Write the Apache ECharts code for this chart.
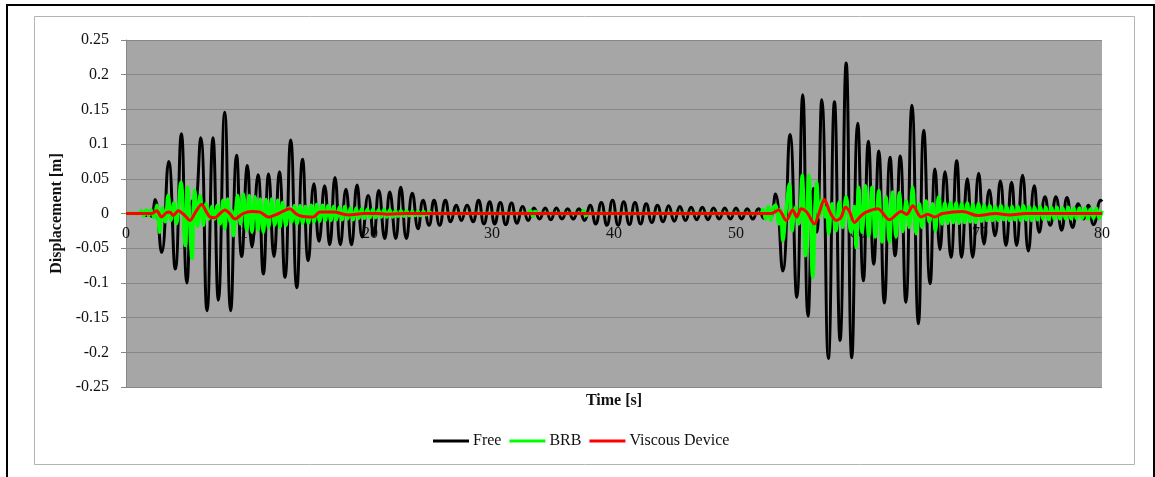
<!DOCTYPE html>
<html>
<head>
<meta charset="utf-8">
<script src="https://cdn.jsdelivr.net/npm/echarts@6/dist/echarts.min.js"></script>
<style>
  html, body { margin: 0; padding: 0; background: #fff; }
  #chart { width: 1155px; height: 477px; }
</style>
</head>
<body>
<div id="chart"></div>
<script>
// *******Data: [time (s), displacement (m)] at each turning point*******
var seriesNames = ['Free', 'BRB', 'Viscous Device'];
var xTicks = [0, 10, 20, 30, 40, 50, 60, 70, 80];
var yTicks = [-0.25, -0.2, -0.15, -0.1, -0.05, 0, 0.05, 0.1, 0.15, 0.2, 0.25];

var freeData = [
    [0, 0], [1.3, 0], [1.6, -0.003], [1.9, 0.002], [2.1, -0.004], [2.38, 0.02], [2.92, -0.056],
    [3.5, 0.075], [4.04, -0.08], [4.54, 0.115], [5.0, -0.1], [5.42, 0.018], [5.62, 0.008],
    [6.12, 0.109], [6.64, -0.14], [7.13, 0.109], [7.57, -0.125], [8.09, 0.146], [8.58, -0.14],
    [9.07, 0.084], [9.48, -0.062], [9.95, 0.069], [10.33, -0.048], [10.82, 0.056], [11.26, -0.087],
    [11.69, 0.057], [12.13, -0.062], [12.57, 0.06], [13.03, -0.092], [13.5, 0.106], [14.0, -0.107],
    [14.47, 0.078], [14.94, -0.068], [15.4, 0.043], [15.82, -0.04], [16.28, 0.04], [16.7, -0.045],
    [17.13, 0.052], [17.57, -0.045], [18.03, 0.035], [18.48, -0.045], [18.94, 0.041], [19.36, -0.034],
    [19.85, 0.026], [20.31, -0.032], [20.72, 0.033], [21.21, -0.036], [21.62, 0.031], [22.11, -0.036],
    [22.52, 0.038], [22.98, -0.036], [23.47, 0.029], [23.94, -0.022], [24.35, 0.019], [24.84, -0.017],
    [25.25, 0.019], [25.71, -0.017], [26.18, 0.019], [26.61, -0.012], [27.08, 0.012], [27.49, -0.01],
    [27.95, 0.012], [28.44, -0.012], [28.9, 0.019], [29.34, -0.015], [29.81, 0.017], [30.22, -0.015],
    [30.68, 0.016], [31.13, -0.016], [31.6, 0.015], [32.05, -0.014], [32.52, 0.01], [32.97, -0.01],
    [33.44, 0.008], [33.9, -0.008], [34.36, 0.008], [34.82, -0.009], [35.28, 0.008], [35.74, -0.008],
    [36.2, 0.007], [36.66, -0.008], [37.12, 0.007], [37.58, -0.01], [38.04, 0.012], [38.5, -0.015],
    [38.96, 0.016], [39.42, -0.017], [39.88, 0.019], [40.34, -0.017], [40.8, 0.017], [41.26, -0.016],
    [41.72, 0.016], [42.18, -0.015], [42.64, 0.014], [43.1, -0.013], [43.56, 0.012], [44.02, -0.012],
    [44.48, 0.011], [44.94, -0.011], [45.4, 0.01], [45.86, -0.01], [46.32, 0.009], [46.78, -0.009],
    [47.24, 0.009], [47.7, -0.009], [48.16, 0.008], [48.62, -0.008], [49.08, 0.008], [49.54, -0.008],
    [50.0, 0.008], [50.46, -0.008], [50.92, 0.007], [51.38, -0.008], [51.84, 0.007], [52.3, -0.007],
    [52.62, 0.004], [52.85, -0.006], [53.23, 0.028], [53.83, -0.083], [54.43, 0.114], [54.98, -0.121],
    [55.47, 0.171], [55.91, -0.148], [56.35, 0.036], [56.62, -0.027], [57.03, 0.164], [57.57, -0.209],
    [58.07, 0.161], [58.53, -0.183], [59.03, 0.217], [59.49, -0.208], [59.98, 0.13], [60.44, -0.097],
    [60.85, 0.104], [61.29, -0.073], [61.7, 0.09], [62.16, -0.129], [62.63, 0.081], [63.04, -0.061],
    [63.46, 0.083], [63.92, -0.128], [64.42, 0.156], [64.95, -0.159], [65.39, 0.12], [65.91, -0.101],
    [66.31, 0.064], [66.72, -0.052], [67.13, 0.06], [67.62, -0.063], [68.09, 0.076], [68.5, -0.063],
    [68.96, 0.05], [69.4, -0.063], [69.89, 0.058], [70.33, -0.044], [70.76, 0.034], [71.23, -0.032],
    [71.67, 0.047], [72.13, -0.046], [72.59, 0.045], [73.0, -0.046], [73.49, 0.055], [73.96, -0.054],
    [74.45, 0.04], [74.86, -0.027], [75.33, 0.024], [75.76, -0.017], [76.22, 0.024], [76.69, -0.024],
    [77.13, 0.023], [77.59, -0.02], [78.06, 0.014], [78.49, -0.008], [78.87, 0.012], [79.31, -0.016],
    [79.9, 0.019], [80, 0.017]
];

var brbData = [
    [0, 0], [1.1, 0], [1.25, 0.004], [1.45, -0.004], [1.65, 0.005], [1.85, -0.003], [2.05, 0.005],
    [2.3, -0.006], [2.53, 0.012], [2.76, -0.027], [2.99, 0.008], [3.22, -0.012], [3.45, 0.026],
    [3.68, -0.01], [3.91, 0.015], [4.14, -0.015], [4.5, 0.045], [4.86, -0.046], [5.05, 0.038],
    [5.41, -0.065], [5.63, 0.034], [5.87, -0.019], [6.07, 0.026], [6.34, -0.017], [6.56, 0.014],
    [6.8, -0.008], [7.03, 0.01], [7.26, -0.008], [7.49, 0.012], [7.72, -0.015], [7.95, 0.019],
    [8.1, -0.022], [8.33, 0.021], [8.55, -0.012], [8.68, 0.004], [8.8, -0.032], [9.15, 0.026],
    [9.38, -0.015], [9.62, 0.028], [9.89, -0.024], [10.11, 0.026], [10.33, -0.027], [10.57, 0.024],
    [10.82, -0.024], [11.01, 0.021], [11.26, -0.027], [11.48, 0.02], [11.69, -0.02], [11.94, 0.021],
    [12.19, -0.017], [12.43, 0.019], [12.62, -0.02], [12.84, 0.016], [13.11, -0.017], [13.33, 0.008],
    [13.58, -0.012], [13.8, 0.011], [14.02, -0.015], [14.26, 0.011], [14.48, -0.014], [14.7, 0.01],
    [14.95, -0.014], [15.18, 0.012], [15.41, -0.012], [15.64, 0.013], [15.87, -0.011], [16.1, 0.012],
    [16.33, -0.01], [16.56, 0.011], [16.79, -0.01], [17.02, 0.01], [17.25, -0.009], [17.48, 0.009],
    [17.71, -0.009], [17.94, 0.01], [18.17, -0.008], [18.4, 0.008], [18.63, -0.009], [18.86, 0.008],
    [19.09, -0.007], [19.32, 0.007], [19.55, -0.007], [19.78, 0.006], [20.01, -0.006], [20.24, 0.006],
    [20.47, -0.006], [20.7, 0.005], [20.93, -0.005], [21.16, 0.006], [21.39, -0.005], [21.62, 0.005],
    [21.85, -0.005], [22.08, 0.004], [22.31, -0.004], [22.54, 0.004], [22.77, -0.004], [23.0, 0.004],
    [23.23, -0.003], [23.46, 0.003], [23.69, -0.003], [23.92, 0.003], [24.15, -0.003], [24.38, 0.003],
    [24.61, -0.002], [24.84, 0.002], [25.1, 0], [32.9, 0], [33.15, 0.004], [33.35, -0.004],
    [33.55, 0.003], [33.8, 0], [37.3, 0], [37.5, 0.004], [37.7, -0.003], [37.9, 0], [52.0, 0],
    [52.2, 0.006], [52.42, -0.008], [52.64, 0.01], [52.86, -0.01], [53.05, 0.008], [53.24, 0.012],
    [53.51, -0.015], [53.67, 0.006], [53.84, -0.039], [54.1, 0.004], [54.38, 0.043], [54.6, -0.025],
    [54.87, 0.009], [55.15, -0.015], [55.42, 0.055], [55.69, -0.061], [55.97, 0.055], [56.29, -0.092],
    [56.62, 0.045], [56.84, -0.005], [57.06, 0.02], [57.33, -0.005], [57.45, 0.01], [57.6, -0.029],
    [57.87, 0.014], [58.19, -0.025], [58.47, 0.017], [58.75, -0.02], [59.02, 0.024], [59.43, -0.027],
    [59.7, 0.01], [59.84, -0.049], [60.06, 0.038], [60.34, -0.027], [60.6, 0.04], [60.88, -0.032],
    [61.15, 0.038], [61.42, -0.034], [61.7, 0.033], [61.97, -0.041], [62.3, 0.024], [62.57, -0.041],
    [62.85, 0.031], [63.12, -0.034], [63.39, 0.03], [63.66, -0.026], [63.95, 0.018], [64.2, -0.02],
    [64.48, 0.038], [64.76, -0.029], [65.03, 0.014], [65.25, -0.02], [65.58, 0.018], [65.85, -0.012],
    [66.12, 0.014], [66.34, -0.025], [66.61, 0.024], [66.89, -0.015], [67.12, 0.015], [67.35, -0.014],
    [67.58, 0.016], [67.81, -0.013], [68.04, 0.015], [68.27, -0.014], [68.5, 0.014], [68.73, -0.013],
    [68.96, 0.015], [69.19, -0.012], [69.42, 0.013], [69.65, -0.013], [69.88, 0.014], [70.11, -0.011],
    [70.34, 0.012], [70.57, -0.01], [70.8, 0.011], [71.03, -0.01], [71.26, 0.01], [71.49, -0.01],
    [71.72, 0.011], [71.95, -0.009], [72.18, 0.01], [72.41, -0.01], [72.64, 0.01], [72.87, -0.009],
    [73.1, 0.01], [73.33, -0.01], [73.56, 0.011], [73.79, -0.009], [74.02, 0.01], [74.25, -0.01],
    [74.48, 0.009], [74.71, -0.009], [74.94, 0.01], [75.17, -0.008], [75.4, 0.009], [75.63, -0.009],
    [75.86, 0.009], [76.09, -0.008], [76.32, 0.009], [76.55, -0.008], [76.78, 0.008], [77.01, -0.008],
    [77.24, 0.009], [77.47, -0.008], [77.7, 0.008], [77.93, -0.008], [78.16, 0.008], [78.39, -0.007],
    [78.62, 0.008], [78.85, -0.008], [79.08, 0.007], [79.31, -0.007], [79.54, 0.008], [79.77, -0.007],
    [80, 0.004]
];

var viscousData = [
    [0, 0], [2.1, 0], [2.51, 0.004], [2.92, -0.005], [3.3, 0.001], [3.6, 0.002], [3.88, -0.003],
    [4.29, 0.004], [4.83, -0.003], [5.24, -0.01], [5.7, 0.002], [6.2, 0.013], [6.6, 0.002],
    [6.88, -0.005], [7.29, -0.006], [7.7, 0.0], [8.11, 0.005], [8.5, 0.0], [8.93, -0.008],
    [9.6, 0.0], [10.29, 0.003], [11.0, 0.002], [11.66, -0.005], [12.5, 0.0], [13.43, 0.007],
    [13.9, 0.0], [14.39, -0.004], [15.34, -0.005], [15.89, 0.002], [16.98, 0.002], [18.24, -0.002],
    [19.5, 0.0], [20.53, 0.0], [21.36, -0.001], [23, 0.0], [52.88, 0], [53.51, 0.005],
    [54.11, -0.01], [54.65, 0.005], [54.98, -0.005], [55.34, 0.007], [55.8, 0.002], [56.43, -0.015],
    [56.8, 0.0], [57.25, 0.02], [57.7, 0.002], [58.21, -0.01], [58.6, -0.006], [58.97, 0.009],
    [59.3, 0.003], [59.71, -0.013], [60.2, -0.004], [60.66, 0.002], [61.62, 0.007], [62.57, -0.009],
    [63.53, 0.003], [64.0, -0.001], [64.5, 0.011], [65.17, -0.005], [65.71, -0.001], [66.26, -0.005],
    [66.94, 0.0], [68.57, 0.003], [69.81, -0.003], [71.31, 0.0], [72.4, -0.002], [73.76, 0.0],
    [80, 0.0]
];

var seriesColors = ['#000000', '#00ff00', '#ff0000'];
var serifFont = '"Liberation Serif", "Times New Roman", serif';

// plot box in the picture
var plotTop = 40;
var plotHeight = 347;

var myChart = echarts.init(document.getElementById('chart'), null, { renderer: 'canvas' });

function buildLine(name, data, color, width, smooth) {
    return {
        name: name,
        type: 'line',
        data: data,
        smooth: smooth,
        showSymbol: false,
        symbol: 'none',
        lineStyle: { color: color, width: width, join: 'round' },
        itemStyle: { color: color },
        emphasis: { disabled: true }
    };
}

var option = {
    animation: false,
    backgroundColor: '#ffffff',
    graphic: [
        // outer chart frame and inner plot-area frame
        { type: 'rect', shape: { x: 7, y: 5, width: 1147, height: 520 },
          style: { fill: null, stroke: '#000', lineWidth: 2 }, silent: true },
        { type: 'rect', shape: { x: 34.5, y: 16.5, width: 1100, height: 448 },
          style: { fill: null, stroke: '#b4b4b4', lineWidth: 1 }, silent: true }
    ],
    grid: {
        left: 126, top: plotTop, width: 976, height: plotHeight,
        containLabel: false, outerBoundsMode: 'none',
        show: true, backgroundColor: '#a6a6a6', borderWidth: 0
    },
    legend: {
        data: seriesNames,
        left: 428, top: 428,
        icon: 'rect', itemWidth: 36, itemHeight: 3, itemGap: 8,
        textStyle: { fontFamily: serifFont, fontSize: 16, color: '#111', padding: [0, 0, 0, -1] },
        selectedMode: false
    },
    xAxis: {
        type: 'value', min: xTicks[0], max: xTicks[xTicks.length - 1], interval: 10,
        position: 'bottom',
        // the horizontal axis sits on the zero line, half way up the plot
        offset: -plotHeight / 2,
        name: 'Time [s]', nameLocation: 'middle', nameGap: 179,
        nameTextStyle: { fontFamily: serifFont, fontSize: 16, fontWeight: 'bold', color: '#111' },
        axisLine: { onZero: false, lineStyle: { color: '#868686', width: 1 } },
        axisTick: { show: false },
        axisLabel: { fontFamily: serifFont, fontSize: 16, color: '#111', margin: 12 },
        splitLine: { show: false }
    },
    yAxis: {
        type: 'value', min: yTicks[0], max: yTicks[yTicks.length - 1], interval: 0.05,
        name: 'Displacement [m]', nameLocation: 'middle', nameGap: 58,
        nameTextStyle: { fontFamily: serifFont, fontSize: 16, fontWeight: 'bold', color: '#111' },
        axisLine: { show: true, onZero: false, lineStyle: { color: '#868686', width: 1 } },
        axisTick: { show: true, length: 5, lineStyle: { color: '#868686' } },
        axisLabel: {
            fontFamily: serifFont, fontSize: 16, color: '#111', margin: 17,
            formatter: function (v) { return String(+v.toFixed(2)); }
        },
        splitLine: { lineStyle: { color: '#878787', width: 1 } }
    },
    series: [
        buildLine(seriesNames[0], freeData, seriesColors[0], 3, 0.5),
        buildLine(seriesNames[1], brbData, seriesColors[1], 3.5, 0.4),
        buildLine(seriesNames[2], viscousData, seriesColors[2], 3, 0.3)
    ]
};

myChart.setOption(option);
</script>
</body>
</html>
